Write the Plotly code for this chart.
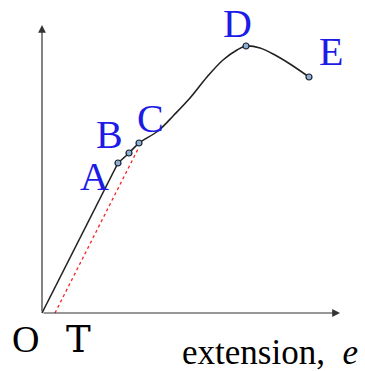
import plotly.graph_objects as go

# Load–extension curve (arbitrary units)
lin_x = [0.0, 7.6]
lin_y = [0.0, 15.0]
curve_x = [7.6, 8.7, 9.7, 11.6, 13.2, 14.8, 16.5, 18.1, 19.5, 20.4, 21.8, 23.3, 24.8, 26.7]
curve_y = [15.0, 16.0, 17.0, 18.2, 19.8, 21.5, 23.6, 25.3, 26.3, 26.7, 26.5, 25.8, 24.9, 23.6]
marker_x = [7.6, 8.7, 9.7, 20.4, 26.7]
marker_y = [15.0, 16.0, 17.0, 26.7, 23.6]
offset_x = [1.3, 9.6]
offset_y = [0.0, 16.4]
point_labels = ["A", "B", "C", "D", "E"]
label_x = [5.2, 6.7, 10.8, 19.5, 28.9]
label_y = [13.7, 17.9, 19.5, 29.0, 26.2]
axis_x_end = 29.8
axis_y_end = 28.8

fig = go.Figure()
fig.add_trace(go.Scatter(x=lin_x, y=lin_y, mode="lines",
                         line=dict(color="#222222", width=1.6)))
fig.add_trace(go.Scatter(x=curve_x, y=curve_y, mode="lines",
                         line=dict(color="#222222", width=1.6, shape="spline", smoothing=1.0)))
fig.add_trace(go.Scatter(x=offset_x, y=offset_y, mode="lines",
                         line=dict(color="#ff2020", width=1.3, dash="dot")))
fig.add_trace(go.Scatter(x=marker_x, y=marker_y, mode="markers",
                         marker=dict(size=6, color="#8fb0d0", line=dict(color="#1a2030", width=1.2))))

# axes with arrows
fig.add_annotation(x=axis_x_end, y=0, ax=0, ay=0, xref="x", yref="y", axref="x", ayref="y",
                   showarrow=True, arrowhead=2, arrowsize=1.3, arrowwidth=1.2, arrowcolor="#333333", text="")
fig.add_annotation(x=0, y=axis_y_end, ax=0, ay=0, xref="x", yref="y", axref="x", ayref="y",
                   showarrow=True, arrowhead=2, arrowsize=1.3, arrowwidth=1.2, arrowcolor="#333333", text="")

for t, x, y in zip(point_labels, label_x, label_y):
    fig.add_annotation(x=x, y=y, text=t, showarrow=False,
                       font=dict(family="Liberation Serif", size=40, color="#1c1ce6"))

fig.add_annotation(x=-1.7, y=-2.6, text="O", showarrow=False,
                   font=dict(family="Liberation Serif", size=38, color="#000000"))
fig.add_annotation(x=3.6, y=-2.6, text="T", showarrow=False,
                   font=dict(family="DejaVu Serif", size=37, color="#000000"))
fig.add_annotation(x=22.8, y=-3.9, text="extension,  <i>e</i>", showarrow=False,
                   font=dict(family="Liberation Serif", size=35, color="#000000"))

fig.update_xaxes(visible=False, range=[-4.2, 32.3])
fig.update_yaxes(visible=False, range=[-5.8, 31.3])
fig.update_layout(width=365, height=371, margin=dict(l=0, r=0, t=0, b=0),
                  plot_bgcolor="white", paper_bgcolor="white", showlegend=False)
fig.write_html("out.html", config={"displayModeBar": False},
               post_script="document.body.style.margin='0';document.body.style.overflow='hidden';")
